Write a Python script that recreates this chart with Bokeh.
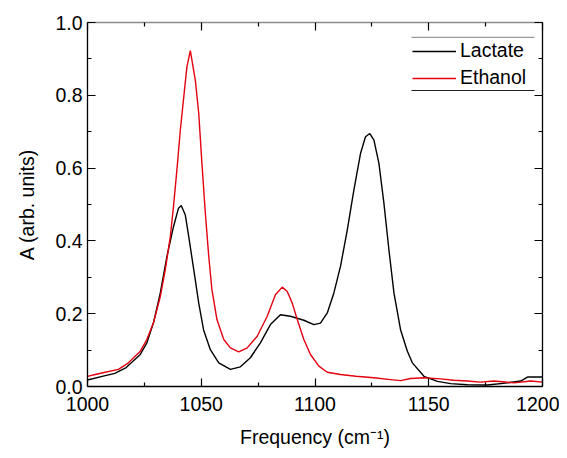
from bokeh.plotting import figure
from bokeh.models import (Range1d, LinearAxis, Legend, LegendItem, BoxAnnotation,
                          FixedTicker)
from bokeh.embed import file_html
from bokeh.resources import INLINE

# ---- data ----
lactate_x = [1000, 1006, 1012, 1017, 1023.2, 1026.1, 1029, 1032, 1034.9, 1037.8,
             1040, 1041.2, 1043, 1044.5, 1046.7, 1048.9, 1051, 1054, 1057.7, 1062.8,
             1067.2, 1071.6, 1076, 1080.4, 1084.8, 1089.2, 1095.1, 1099.5, 1102.4, 1105.4,
             1108.3, 1111.2, 1114.2, 1117.1, 1120, 1122.2, 1124.1, 1125.9, 1128.1, 1130.3,
             1132.5, 1134.7, 1137.6, 1140.6, 1142.8, 1147.9, 1153.8, 1159.6, 1167, 1175.8,
             1184.6, 1190.4, 1193.4, 1200]
lactate_y = [0.018, 0.027, 0.036, 0.052, 0.088, 0.120, 0.175, 0.257, 0.357, 0.439,
             0.490, 0.497, 0.471, 0.412, 0.321, 0.229, 0.156, 0.101, 0.065, 0.047,
             0.054, 0.079, 0.120, 0.170, 0.197, 0.193, 0.182, 0.170, 0.174, 0.202,
             0.257, 0.330, 0.430, 0.540, 0.640, 0.686, 0.695, 0.677, 0.613, 0.503,
             0.375, 0.257, 0.156, 0.097, 0.065, 0.028, 0.014, 0.008, 0.005, 0.004,
             0.010, 0.015, 0.026, 0.026]

ethanol_x = [1000, 1003.4, 1007.8, 1013.6, 1018, 1023.2, 1026.1, 1029, 1032, 1034.2,
             1036.4, 1037.8, 1039.3, 1040.8, 1042.3, 1043.7, 1045.2, 1047.4, 1048.9, 1050.3,
             1051.8, 1053.3, 1054.7, 1056.9, 1059.9, 1062.8, 1066.5, 1070.2, 1074.6, 1079,
             1082.6, 1085.6, 1087.8, 1090, 1092.2, 1095.1, 1098, 1101.7, 1105.4, 1111.2,
             1118, 1125.9, 1133.2, 1137.6, 1142, 1147.9, 1155.2, 1161, 1167, 1172.8,
             1178.7, 1187.5, 1194.8, 1200]
ethanol_y = [0.028, 0.033, 0.039, 0.047, 0.065, 0.097, 0.129, 0.175, 0.247, 0.321,
             0.412, 0.494, 0.595, 0.704, 0.795, 0.878, 0.923, 0.841, 0.750, 0.613,
             0.476, 0.357, 0.266, 0.184, 0.129, 0.106, 0.095, 0.106, 0.138, 0.193,
             0.252, 0.273, 0.261, 0.229, 0.184, 0.129, 0.088, 0.056, 0.039, 0.033,
             0.028, 0.024, 0.019, 0.016, 0.022, 0.024, 0.021, 0.017, 0.015, 0.012,
             0.015, 0.010, 0.015, 0.012]

series_names = ["Lactate", "Ethanol"]
x_ticks = [1000, 1050, 1100, 1150, 1200]
x_minor = [1025, 1075, 1125, 1175]
y_ticks = [0.0, 0.2, 0.4, 0.6, 0.8, 1.0]
y_minor = [0.1, 0.3, 0.5, 0.7, 0.9]

FONT = "Liberation Sans"
FS = "19.5px"

p = figure(width=559, height=450, output_backend="svg", toolbar_location=None,
           x_range=Range1d(1000, 1200), y_range=Range1d(0, 1.0),
           min_border_left=87, min_border_right=17, min_border_top=22,
           min_border_bottom=63)
p.outline_line_color = None
p.grid.visible = False
p.background_fill_color = "white"
p.border_fill_color = "white"

l1 = p.line(lactate_x, lactate_y, line_color="#000000", line_width=1.4)
l2 = p.line(ethanol_x, ethanol_y, line_color="#e3000f", line_width=1.4)


def style_axis(ax, labels=True, line_color="#000000"):
    ax.axis_line_color = line_color
    ax.axis_line_width = 1.3
    ax.major_tick_in = 8
    ax.major_tick_out = 0
    ax.minor_tick_in = 4
    ax.minor_tick_out = 0
    ax.major_tick_line_color = "#000000"
    ax.minor_tick_line_color = "#000000"
    ax.major_tick_line_width = 1.2
    ax.minor_tick_line_width = 1.2
    ax.major_label_text_font = FONT
    ax.major_label_text_font_size = FS
    ax.major_label_text_color = "#000000"
    ax.axis_label_text_font = FONT
    ax.axis_label_text_font_size = FS
    ax.axis_label_text_font_style = "normal"
    ax.axis_label_text_color = "#000000"
    if not labels:
        ax.major_label_text_font_size = "0px"
        ax.major_label_text_color = None


xt = FixedTicker(ticks=x_ticks, minor_ticks=x_minor)
yt = FixedTicker(ticks=y_ticks, minor_ticks=y_minor)

xa = p.xaxis[0]
xa.ticker = xt
style_axis(xa)
xa.axis_label = "Frequency (cm\u207b\u00b9)"
xa.major_label_standoff = 10
xa.axis_label_standoff = 12

ya = p.yaxis[0]
ya.ticker = yt
style_axis(ya)
ya.axis_label = "A (arb. units)"
ya.major_label_standoff = 5
ya.axis_label_standoff = 14
ya.major_label_overrides = {0.0: "0.0", 0.2: "0.2", 0.4: "0.4", 0.6: "0.6",
                            0.8: "0.8", 1.0: "1.0"}

top = LinearAxis(ticker=xt)
style_axis(top, labels=False, line_color="#8c8c8c")
p.add_layout(top, "above")
right = LinearAxis(ticker=yt)
style_axis(right, labels=False)
p.add_layout(right, "right")

legend = Legend(items=[LegendItem(label=series_names[0], renderers=[l1]),
                       LegendItem(label=series_names[1], renderers=[l2])],
                location=(325, 297), orientation="vertical",
                glyph_width=44, glyph_height=20, label_standoff=4,
                label_height=20, spacing=4, padding=0, margin=0,
                label_text_font=FONT, label_text_font_size=FS,
                label_text_color="#000000",
                border_line_color=None, background_fill_alpha=0)
p.add_layout(legend)

# legend frame rules (top and bottom only), frame-relative screen units
p.add_layout(BoxAnnotation(left=324, right=447, top=349.8, bottom=348.6,
                           left_units="screen", right_units="screen",
                           top_units="screen", bottom_units="screen",
                           fill_color="#9a9a9a", fill_alpha=1.0, line_color=None,
                           level="overlay"))
p.add_layout(BoxAnnotation(left=324, right=447, top=296.6, bottom=295.4,
                           left_units="screen", right_units="screen",
                           top_units="screen", bottom_units="screen",
                           fill_color="#222222", fill_alpha=1.0, line_color=None,
                           level="overlay"))

open("out.html", "w").write(file_html(p, INLINE))
